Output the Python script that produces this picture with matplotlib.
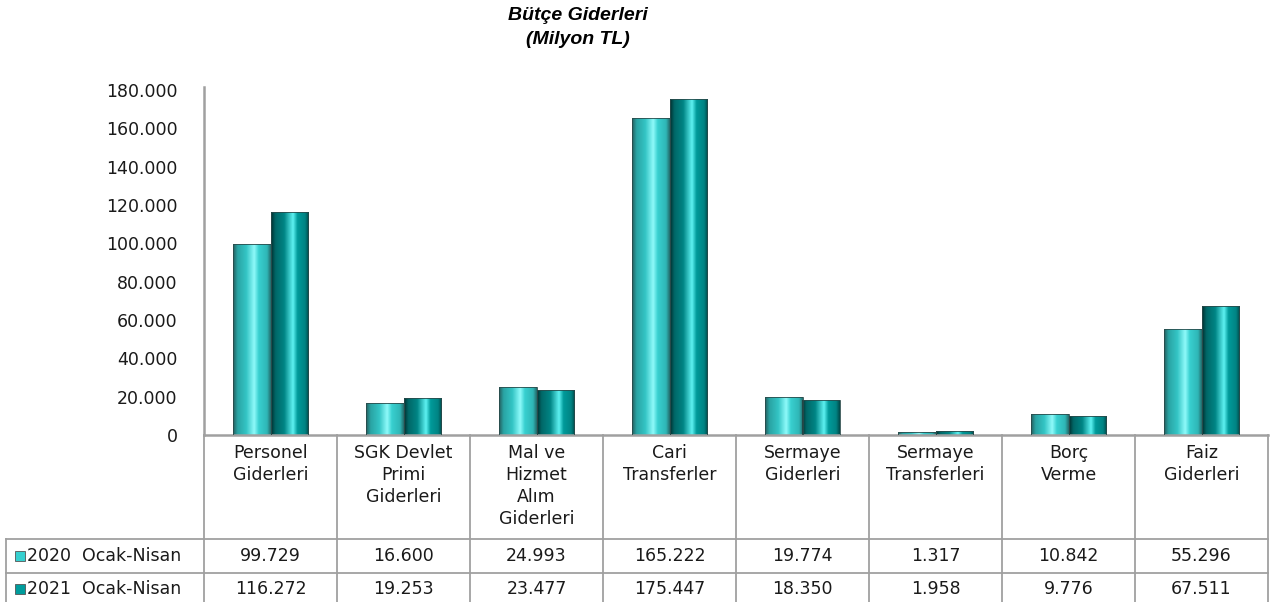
import numpy as np
import matplotlib
matplotlib.use("Agg")
import matplotlib.pyplot as plt
from matplotlib.colors import LinearSegmentedColormap
from matplotlib.lines import Line2D
from matplotlib.patches import Rectangle

# ---------------- data ----------------
categories = ["Personel\nGiderleri", "SGK Devlet\nPrimi\nGiderleri",
              "Mal ve\nHizmet\nAlım\nGiderleri", "Cari\nTransferler",
              "Sermaye\nGiderleri", "Sermaye\nTransferleri",
              "Borç\nVerme", "Faiz\nGiderleri"]
series_labels = ["2020  Ocak-Nisan", "2021  Ocak-Nisan"]
values_2020 = [99729, 16600, 24993, 165222, 19774, 1317, 10842, 55296]
values_2021 = [116272, 19253, 23477, 175447, 18350, 1958, 9776, 67511]
yticks = [0, 20000, 40000, 60000, 80000, 100000, 120000, 140000, 160000, 180000]
title_lines = ["Bütçe Giderleri", "(Milyon TL)"]


def fmt(v):
    return f"{v:,}".replace(",", ".")


FONT = "DejaVu Sans"
FS = 12.5
W_PX, H_PX = 1288, 602

fig = plt.figure(figsize=(W_PX / 100, H_PX / 100), dpi=100)

ax_left, ax_right = 204, 1268
ax_bottom, ax_top = 435, 87
ax = fig.add_axes([ax_left / W_PX, 1 - ax_bottom / H_PX,
                   (ax_right - ax_left) / W_PX, (ax_bottom - ax_top) / H_PX])

n = len(categories)
x = np.arange(n)
bw = 0.28

cmap20 = LinearSegmentedColormap.from_list("c20", [
    (0.0, "#245c5c"), (0.12, "#2aa4a4"), (0.35, "#33c4c4"),
    (0.56, "#8ffafa"), (0.68, "#38d0d0"), (0.9, "#2fb6b6"), (1.0, "#236868")])
cmap21 = LinearSegmentedColormap.from_list("c21", [
    (0.0, "#002f2f"), (0.12, "#006868"), (0.35, "#008585"),
    (0.58, "#5ef2f2"), (0.7, "#009a9a"), (0.9, "#008484"), (1.0, "#004848")])

grad = np.linspace(0, 1, 256).reshape(1, -1)

for vals, off, cmap in [(values_2020, -bw / 2, cmap20), (values_2021, bw / 2, cmap21)]:
    bars = ax.bar(x + off, vals, width=bw, facecolor="none",
                  edgecolor="#2a4a4a", linewidth=0.6, zorder=3)
    for b in bars:
        bx, by, bwid, bh = b.get_x(), b.get_y(), b.get_width(), b.get_height()
        im = ax.imshow(grad, cmap=cmap, extent=[bx, bx + bwid, by, by + bh],
                       aspect="auto", zorder=2, interpolation="bilinear")
        im.set_clip_path(b)

ax.set_xlim(-0.5, n - 0.5)
ax.set_ylim(0, 180000 * (ax_bottom - ax_top) / (ax_bottom - 90))
ax.set_yticks(yticks)
ax.set_yticklabels([fmt(v) for v in yticks], fontsize=FS, family=FONT, color="#1a1a1a")
ax.tick_params(axis="y", length=0, pad=19)
ax.set_xticks([])
for s in ["top", "right"]:
    ax.spines[s].set_visible(False)
for s in ["left", "bottom"]:
    ax.spines[s].set_color("#a0a0a0")
    ax.spines[s].set_linewidth(1.8)

# ---------------- title ----------------
for line, yp in zip(title_lines, [15, 39]):
    fig.text(578 / W_PX, 1 - yp / H_PX, line, ha="center", va="center",
             fontsize=14, fontweight="bold", fontstyle="italic",
             family="Liberation Sans")

# ---------------- table ----------------
def fx(px):
    return px / W_PX


def fy(py):
    return 1 - py / H_PX


lc = "#a0a0a0"
cw = (ax_right - ax_left) / n
row1_top, row2_top, row_bottom = 539, 573, 607
tbl_left = 6

for i in range(n + 1):
    xp = ax_left + i * cw
    fig.add_artist(Line2D([fx(xp), fx(xp)], [fy(ax_bottom), fy(H_PX + 2)],
                          color=lc, lw=1.3, transform=fig.transFigure))
for yp in [row1_top, row2_top]:
    fig.add_artist(Line2D([fx(tbl_left), fx(ax_right)], [fy(yp), fy(yp)],
                          color=lc, lw=1.3, transform=fig.transFigure))
fig.add_artist(Line2D([fx(tbl_left), fx(tbl_left)], [fy(row1_top), fy(H_PX + 2)],
                      color=lc, lw=1.3, transform=fig.transFigure))

for i, cat in enumerate(categories):
    xc = ax_left + (i + 0.5) * cw
    fig.text(fx(xc), fy(444), cat, ha="center", va="top", fontsize=FS,
             family=FONT, color="#1a1a1a", linespacing=1.28)
    fig.text(fx(xc), fy((row1_top + row2_top) / 2), fmt(values_2020[i]),
             ha="center", va="center", fontsize=FS, family=FONT, color="#1a1a1a")
    fig.text(fx(xc), fy((row2_top + row_bottom) / 2 - 1), fmt(values_2021[i]),
             ha="center", va="center", fontsize=FS, family=FONT, color="#1a1a1a")

# legend keys
key_cols = ["#36d0d0", "#009c9c"]
for k, (lab, col) in enumerate(zip(series_labels, key_cols)):
    yc = (row1_top + row2_top) / 2 if k == 0 else (row2_top + row_bottom) / 2 - 1
    fig.add_artist(Rectangle((fx(15), fy(yc + 5)), 10 / W_PX, 10 / H_PX,
                             facecolor=col, edgecolor="#555555", lw=0.6,
                             transform=fig.transFigure))
    fig.text(fx(27), fy(yc), lab, ha="left", va="center", fontsize=FS,
             family=FONT, color="#1a1a1a")

fig.savefig("out.png", dpi=100)
